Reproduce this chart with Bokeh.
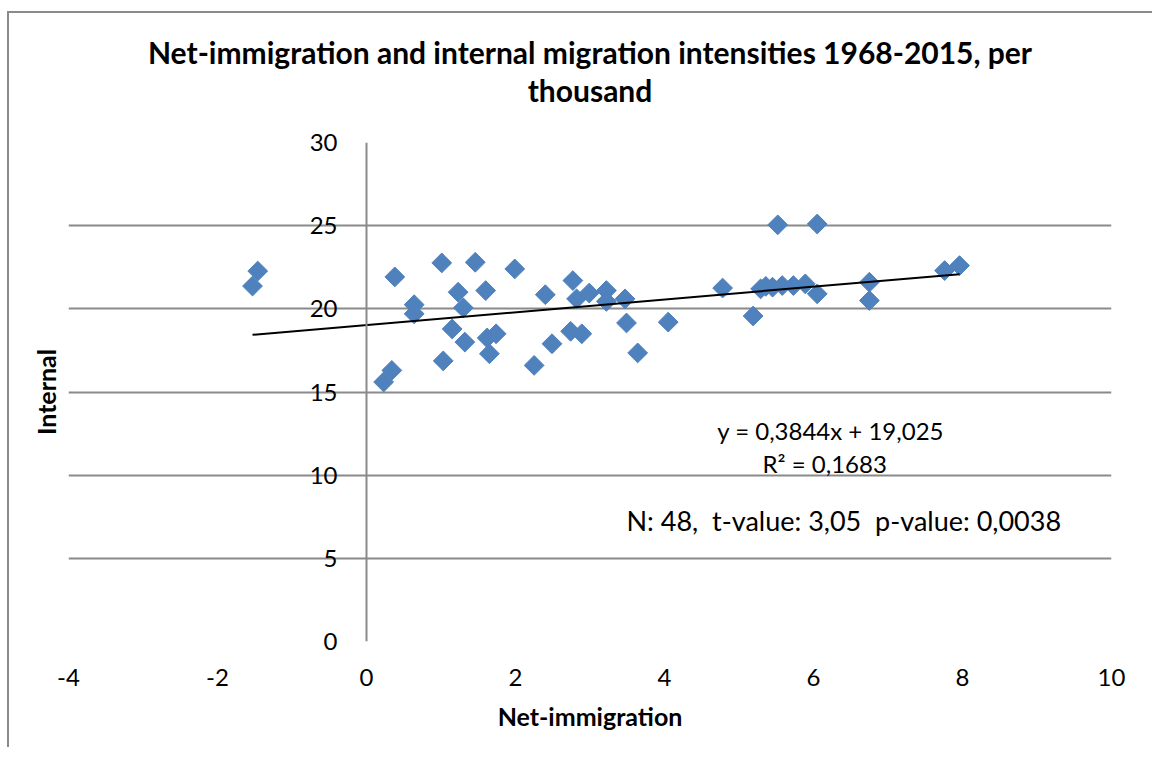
import numpy as np
from bokeh.plotting import figure
from bokeh.models import Range1d, FixedTicker, Title, Label, Span
from bokeh.embed import file_html
from bokeh.resources import INLINE

# Data (per thousand)
net_immigration = [-1.53, -1.46, 0.23, 0.34, 0.38, 0.64, 0.64, 1.01, 1.03, 1.15,
                   1.23, 1.30, 1.32, 1.46, 1.60, 1.62, 1.65, 1.74, 1.99, 2.25,
                   2.40, 2.49, 2.77, 2.74, 2.82, 2.89, 2.99, 3.22, 3.22, 3.47,
                   3.49, 3.64, 4.05, 4.78, 5.19, 5.29, 5.36, 5.45, 5.52, 5.58,
                   5.73, 5.89, 6.05, 6.05, 6.75, 6.75, 7.76, 7.96]
internal = [21.37, 22.27, 15.60, 16.30, 21.92, 20.25, 19.70, 22.76, 16.87, 18.79,
            21.00, 20.06, 18.00, 22.80, 21.10, 18.25, 17.30, 18.50, 22.40, 16.60,
            20.85, 17.90, 21.70, 18.65, 20.60, 18.50, 20.95, 21.10, 20.45, 20.60,
            19.15, 17.35, 19.20, 21.25, 19.57, 21.20, 21.35, 21.30, 25.05, 21.40,
            21.40, 21.50, 20.90, 25.10, 21.60, 20.50, 22.30, 22.60]

# Linear trend reported on the chart
slope = 0.3844
intercept = 19.025

x_ticks = [-4, -2, 0, 2, 4, 6, 8, 10]
y_ticks = [0, 5, 10, 15, 20, 25, 30]

title_line1 = "Net-immigration and internal migration intensities 1968-2015, per"
title_line2 = "thousand"
equation_text = "y = 0,3844x + 19,025"
r2_text = "R² = 0,1683"
stats_text = "N: 48,\u00a0 t-value: 3,05\u00a0 p-value: 0,0038"

FONT = "Lato"
GRID = "#8a8a8a"
BLUE = "#4F81BD"

p = figure(frame_width=1043, frame_height=499,
           x_range=Range1d(-4, 10), y_range=Range1d(0, 30),
           output_backend="svg", toolbar_location=None,
           min_border_left=59, min_border_right=41,
           min_border_top=129, min_border_bottom=106,
           background_fill_color="white", border_fill_color="white")
p.outline_line_color = None
p.styles = {"margin-left": "7px", "margin-top": "11px",
            "border-left": "2px solid #8a8a8a", "border-top": "2px solid #8a8a8a"}

# two title lines (later added sits farther from the frame)
p.add_layout(Title(text=title_line2, align="center", text_font=FONT,
                   text_font_size="30px", text_font_style="bold",
                   text_color="black", standoff=70), "above")
p.add_layout(Title(text=title_line1, align="center", text_font=FONT,
                   text_font_size="30px", text_font_style="bold",
                   text_color="black", standoff=-70), "above")

# y axis labels drawn at x = 0 (negative standoff moves them into the frame)
p.yaxis.ticker = FixedTicker(ticks=y_ticks)
p.yaxis.major_tick_line_color = None
p.yaxis.minor_tick_line_color = None
p.yaxis.axis_line_color = None
p.yaxis.major_label_standoff = -275
p.yaxis.major_label_text_font = FONT
p.yaxis.major_label_text_font_size = "24px"
p.yaxis.major_label_text_color = "black"
p.yaxis.axis_label = None

p.add_layout(Span(location=0, dimension="height", line_color=GRID, line_width=2))

p.add_layout(Title(text="Internal", align="center", text_font=FONT,
                   text_font_size="25px", text_font_style="bold",
                   text_color="black", standoff=15), "left")

# x axis
p.xaxis.ticker = FixedTicker(ticks=x_ticks)
p.xaxis.major_label_overrides = {t: str(t) for t in x_ticks}
p.xaxis.major_tick_line_color = None
p.xaxis.minor_tick_line_color = None
p.xaxis.axis_line_color = None
p.xaxis.major_label_standoff = 21
p.xaxis.major_label_text_font = FONT
p.xaxis.major_label_text_font_size = "24px"
p.xaxis.major_label_text_color = "black"
p.xaxis.axis_label = "Net-immigration"
p.xaxis.axis_label_text_font = FONT
p.xaxis.axis_label_text_font_size = "25px"
p.xaxis.axis_label_text_font_style = "bold"
p.xaxis.axis_label_text_color = "black"
p.xaxis.axis_label_standoff = 12

p.xgrid.visible = False
p.ygrid.ticker = FixedTicker(ticks=y_ticks)
p.ygrid.grid_line_color = GRID
p.ygrid.grid_line_width = 2

# scatter points
p.scatter(net_immigration, internal, marker="square", angle=np.pi / 4, size=14,
          fill_color=BLUE, line_color=BLUE, line_width=1)

# trend line
x_lo, x_hi = min(net_immigration), max(net_immigration)
p.line([x_lo, x_hi], [slope * x_lo + intercept, slope * x_hi + intercept],
       line_color="black", line_width=2)

# annotations
p.add_layout(Label(x=6.23, y=12.66, text=equation_text, text_align="center",
                   text_baseline="middle", text_font=FONT, text_font_size="24px",
                   text_color="black"))
p.add_layout(Label(x=6.15, y=10.73, text=r2_text, text_align="center",
                   text_baseline="middle", text_font=FONT, text_font_size="24px",
                   text_color="black"))
p.add_layout(Label(x=3.49, y=7.25, text=stats_text, text_align="left",
                   text_baseline="middle", text_font=FONT, text_font_size="27px",
                   text_color="black"))

open("out.html", "w").write(file_html(p, INLINE))
